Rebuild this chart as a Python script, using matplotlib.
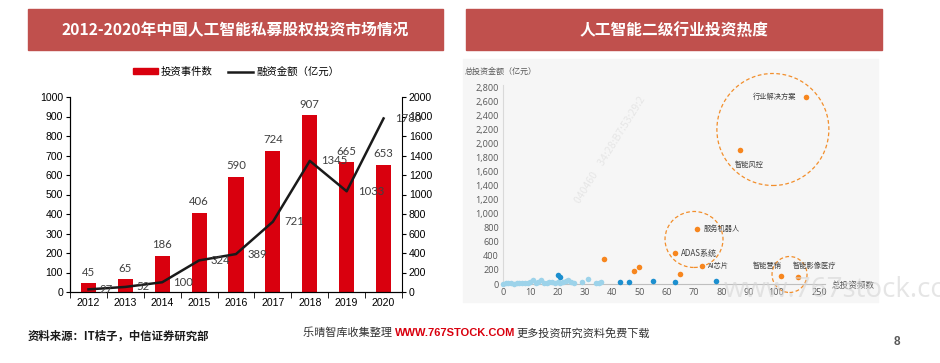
import numpy as np
import matplotlib.pyplot as plt
from matplotlib.patches import Rectangle, Ellipse
from matplotlib.lines import Line2D

CJK = ['Noto Sans CJK SC', 'DejaVu Sans']
plt.rcParams['font.family'] = CJK

# 左图数据
years = ['2012', '2013', '2014', '2015', '2016', '2017', '2018', '2019', '2020']
events = [45, 65, 186, 406, 590, 724, 907, 665, 653]
amount = [27, 52, 100, 324, 389, 721, 1345, 1033, 1780]

# 右图数据（横轴按图上位置读取）
light_x = [0, 1, 2, 3, 4, 5, 6, 7, 8, 9, 10, 11, 12, 13, 14, 15, 16, 17, 18, 19,
           20, 21, 22, 23, 24, 25, 26, 29, 31, 34, 35, 36]
light_y = [5, 10, 8, 12, 6, 15, 10, 8, 20, 12, 25, 55, 18, 30, 50, 20, 15, 28, 22, 10,
           30, 18, 35, 40, 55, 30, 20, 25, 75, 15, 20, 25]
dark_x = [20, 21, 43, 46, 55, 63, 78]
dark_y = [128, 100, 28, 25, 43, 28, 43]
orange_x = [37, 48, 50, 65]
orange_y = [355, 185, 240, 142]
named = ['行业解决方案', '智能风控', '服务机器人', 'ADAS系统', 'AI芯片', '智能营销', '智能影像医疗']
named_x = [111, 87, 71, 63, 73, 102, 108]
named_y = [2658, 1905, 782, 440, 256, 114, 100]
xticks_pos = [0, 10, 20, 30, 40, 50, 60, 70, 80, 90, 100, 116]
xticks_lab = ['0', '10', '20', '30', '40', '50', '60', '70', '80', '90', '100', '250']

W, H = 940, 363
fig = plt.figure(figsize=(W / 100, H / 100), dpi=100)


def box(x0, y0, x1, y1):
    # 像素 -> figure 坐标
    return [x0 / W, 1 - y1 / H, (x1 - x0) / W, (y1 - y0) / H]


# 标题栏
for (x0, x1), title in [((28, 443), '2012-2020年中国人工智能私募股权投资市场情况'),
                        ((466, 882), '人工智能二级行业投资热度')]:
    fig.patches.append(Rectangle((x0 / W, 1 - 50 / H), (x1 - x0) / W, 41 / H,
                                 transform=fig.transFigure, color='#C0504D', zorder=-1))
    fig.text((x0 + x1) / 2 / W, 1 - 30 / H, title, color='white', fontsize=11.3,
             fontweight='bold', ha='center', va='center')

# ---------------- 左图 ----------------
ax = fig.add_axes(box(70, 97, 402, 292))
x = np.arange(len(years))
bars = ax.bar(x, events, width=0.41, color='#D9000E', zorder=2)
ax.set_xlim(-0.5, len(years) - 0.5)
ax.set_ylim(0, 1000)
ax.set_yticks(range(0, 1001, 100))
ax.set_xticks(x)
ax.set_xticklabels(years)
ax.set_xticks(np.arange(-0.5, len(years), 1), minor=True)
ax.tick_params(axis='x', which='major', length=0, pad=4)
ax.tick_params(axis='x', which='minor', length=4, direction='out')
ax.tick_params(axis='y', length=3, direction='out', pad=2)
for lab in ax.get_xticklabels() + ax.get_yticklabels():
    lab.set_family(['Liberation Sans', 'DejaVu Sans'])
    lab.set_fontsize(7.6)
ax.spines['top'].set_visible(False)
ax.spines['right'].set_visible(False)
for v, b in zip(events, bars):
    ax.annotate(str(v), (b.get_x() + b.get_width() / 2, v), xytext=(0, 4),
                textcoords='offset points', ha='center', va='bottom',
                fontsize=8.2, color='#404040', family=['Lato', 'DejaVu Sans'])

ax2 = ax.twinx()
ax2.plot(x, amount, color='#1A1A1A', lw=1.8, zorder=3)
ax2.set_ylim(0, 2000)
ax2.set_yticks(range(0, 2001, 200))
ax2.tick_params(axis='y', length=3, direction='out', pad=2)
for lab in ax2.get_yticklabels():
    lab.set_family(['Liberation Sans', 'DejaVu Sans'])
    lab.set_fontsize(7.6)
ax2.spines['top'].set_visible(False)
for v, xi in zip(amount, x):
    ax2.annotate(str(v), (xi, v), xytext=(8, 0), textcoords='offset points',
                 ha='left', va='center', fontsize=8.2, color='#404040',
                 family=['Lato', 'DejaVu Sans'])

handles = [Rectangle((0, 0), 1, 1, color='#D9000E'),
           Line2D([0], [0], color='#1A1A1A', lw=1.8)]
fig.legend(handles, ['投资事件数', '融资金额（亿元）'], loc='center',
           bbox_to_anchor=(236 / W, 1 - 72 / H), ncol=2, frameon=False,
           fontsize=7.5, handlelength=2.4, handleheight=0.5, columnspacing=1.5,
           handletextpad=0.3)

# ---------------- 右图 ----------------
fig.patches.append(Rectangle((463 / W, 1 - 302 / H), 415 / W, 243 / H,
                             transform=fig.transFigure, color='#F6F6F6', zorder=-1))
bx = fig.add_axes(box(503, 87, 825, 284))
bx.patch.set_visible(False)
bx.set_xlim(0, 118)
bx.set_ylim(0, 2800)
bx.set_yticks(range(0, 2801, 200))
bx.set_yticklabels([f'{v:,}' for v in range(0, 2801, 200)])
bx.set_xticks(xticks_pos)
bx.set_xticklabels(xticks_lab)
bx.tick_params(length=0, labelsize=6.6, labelcolor='#595959', pad=3)
for lab in bx.get_xticklabels() + bx.get_yticklabels():
    lab.set_family(['Open Sans', 'DejaVu Sans'])
for s in ['top', 'right']:
    bx.spines[s].set_visible(False)
bx.spines['left'].set_color('#D9D9D9')
bx.spines['bottom'].set_color('#BFBFBF')
bx.spines['left'].set_bounds(0, 2830)

# 虚线圈（按像素半径换算到数据坐标）
px_x = 322 / 118
px_y = 197 / 2800
for cx, cy, rx, ry in [(98.9, 2196, 56, 56), (70, 633, 29, 28), (105, 135, 17.5, 18)]:
    bx.add_patch(Ellipse((cx, cy), 2 * rx / px_x, 2 * ry / px_y, fill=False,
                         ec='#F28E2B', ls=(0, (3, 2)), lw=0.9, clip_on=False))

bx.scatter(light_x, light_y, s=16, color='#9DD3EA', lw=0, zorder=3, clip_on=False)
bx.scatter(dark_x, dark_y, s=16, color='#1C8FCF', lw=0, zorder=3, clip_on=False)
bx.scatter(orange_x + named_x, orange_y + named_y, s=16, color='#F7861E', lw=0,
           zorder=3, clip_on=False)

offsets = [(-7, 0, 'right', 'center'), (6, -11, 'center', 'center'),
           (5, 0, 'left', 'center'), (4, 0, 'left', 'center'),
           (4, 0, 'left', 'center'), (-10, 7, 'center', 'center'),
           (12, 8, 'center', 'center')]
for name, nx, ny, (dx, dy, ha, va) in zip(named, named_x, named_y, offsets):
    bx.annotate(name, (nx, ny), xytext=(dx, dy), textcoords='offset points',
                ha=ha, va=va, fontsize=5.2 if name != 'ADAS系统' else 5.8,
                color='#404040')

fig.text(465 / W, 1 - 71 / H, '总投资金额（亿元）', fontsize=5.8, color='#595959',
         ha='left', va='center')
fig.text(832 / W, 1 - 285 / H, '总投资频数', fontsize=6.2, color='#595959',
         ha='left', va='center')

# 水印
fig.text(610 / W, 1 - 150 / H, '040460    34:28:B7:53:29:2', fontsize=7.5,
         color='#E6E6E6', rotation=58, ha='center', va='center', zorder=1)
fig.text(724 / W, 1 - 290 / H, 'www.767stock.com', fontsize=20, color='#D5D5D5',
         alpha=0.6, ha='left', va='center', family=['Open Sans', 'DejaVu Sans'],
         zorder=5)

# 页脚
fig.text(28 / W, 1 - 336 / H, '资料来源：IT桔子，中信证券研究部', fontsize=8.2,
         fontweight='bold', color='#1A1A1A', ha='left', va='center')
t1 = fig.text(303 / W, 1 - 333 / H, '乐晴智库收集整理 ', fontsize=8, color='#333333',
              ha='left', va='center')
fig.canvas.draw()
r = fig.canvas.get_renderer()
e1 = t1.get_window_extent(r)
t2 = fig.text(e1.x1 / W, 1 - 333 / H, 'WWW.767STOCK.COM', fontsize=8, color='#D9000E',
              fontweight='bold', ha='left', va='center', family=['Liberation Sans', 'DejaVu Sans'])
e2 = t2.get_window_extent(r)
fig.text(e2.x1 / W + 2 / W, 1 - 333 / H, '更多投资研究资料免费下载', fontsize=8,
         color='#333333', ha='left', va='center')
fig.text(897 / W, 1 - 342 / H, '8', fontsize=8.5, fontweight='bold', color='#595959',
         ha='center', va='center', family=['Liberation Sans', 'DejaVu Sans'])

fig.savefig('out.png', dpi=100)
